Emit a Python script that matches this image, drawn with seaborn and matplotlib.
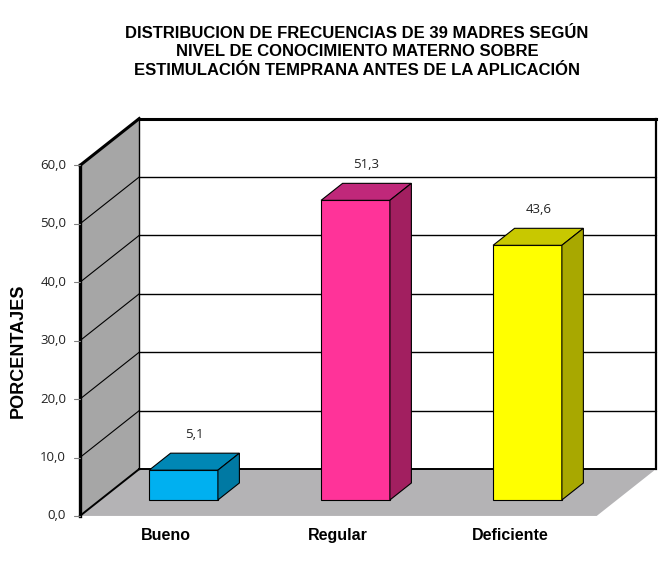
import matplotlib
matplotlib.use('Agg')
import matplotlib.pyplot as plt
from matplotlib.patches import Polygon
import seaborn as sns
import pandas as pd

# datos del grafico
categorias = ['Bueno', 'Regular', 'Deficiente']
porcentajes = [5.1, 51.3, 43.6]
etiquetas = ['5,1', '51,3', '43,6']
ticks_y = [0, 10, 20, 30, 40, 50, 60]
ticks_txt = ['0,0', '10,0', '20,0', '30,0', '40,0', '50,0', '60,0']
colores_frente = ['#00b0f0', '#ff3399', '#ffff00']
colores_lado = ['#0079a3', '#a21f60', '#a8a800']
colores_arriba = ['#0087b5', '#c0287a', '#c8c800']

titulo = ('DISTRIBUCION DE FRECUENCIAS DE 39 MADRES SEGÚN\n'
          'NIVEL DE CONOCIMIENTO MATERNO SOBRE\n'
          'ESTIMULACIÓN TEMPRANA ANTES DE LA APLICACIÓN')

# proyeccion oblicua: z = profundidad (0 = frente de las barras)
DX = 0.125   # desplazamiento en x por unidad de profundidad
DY = 2.91    # desplazamiento en y por unidad de profundidad
ZF = -0.94   # frente del piso / pared lateral
ZB = 1.82    # pared de fondo
XL, XR = -0.485, 2.52
YMAX = 60


def P(x, y, z):
    return (x + z * DX, y + z * DY)


sns.set_theme(style='white')
plt.rcParams['font.family'] = ['Liberation Sans', 'DejaVu Sans']

fig = plt.figure(figsize=(6.63, 5.61), dpi=100)
ax = fig.add_axes([0, 0, 1, 1])

df = pd.DataFrame({'cat': categorias, 'val': porcentajes})
sns.barplot(data=df, x='cat', y='val', hue='cat', palette=colores_frente,
            width=0.40, edgecolor='black', linewidth=0.8, legend=False,
            saturation=1, ax=ax, zorder=3)

# pared de fondo
ax.add_patch(Polygon([P(XL, 0, ZB), P(XR, 0, ZB), P(XR, YMAX, ZB), P(XL, YMAX, ZB)],
                     closed=True, facecolor='white', edgecolor='none', zorder=0))
# pared lateral
ax.add_patch(Polygon([P(XL, 0, ZF), P(XL, 0, ZB), P(XL, YMAX, ZB), P(XL, YMAX, ZF)],
                     closed=True, facecolor='#a6a6a6', edgecolor='none', zorder=0))
# piso
ax.add_patch(Polygon([P(XL, 0, ZF), P(XR, 0, ZF), P(XR, 0, ZB), P(XL, 0, ZB)],
                     closed=True, facecolor='#b4b3b5', edgecolor='none', zorder=0))

# lineas de division
for v in ticks_y[1:-1]:
    a, b = P(XL, v, ZB), P(XR, v, ZB)
    ax.plot([a[0], b[0]], [a[1], b[1]], color='black', lw=1.0, zorder=1)
    a, b = P(XL, v, ZF), P(XL, v, ZB)
    ax.plot([a[0], b[0]], [a[1], b[1]], color='black', lw=0.8, zorder=1)

# bordes
def linea(p1, p2, lw):
    ax.plot([p1[0], p2[0]], [p1[1], p2[1]], color='black', lw=lw, zorder=1,
            solid_capstyle='projecting')

linea(P(XL, YMAX, ZF), P(XL, YMAX, ZB), 2.2)
linea(P(XL, YMAX, ZB), P(XR, YMAX, ZB), 2.2)
linea(P(XR, 0, ZB), P(XR, YMAX, ZB), 1.6)
linea(P(XL, 0, ZB), P(XL, YMAX, ZB), 1.0)
linea(P(XL, 0, ZB), P(XR, 0, ZB), 1.4)
linea(P(XL, 0, ZF), P(XL, 0, ZB), 1.4)
linea(P(XL, 0, ZF), P(XL, YMAX, ZF), 2.4)

# marcas y textos del eje
for v, t in zip(ticks_y, ticks_txt):
    x0, y0 = P(XL, v, ZF)
    ax.plot([x0 - 0.035, x0], [y0, y0], color='#808080', lw=0.8, zorder=1)
    ax.text(x0 - 0.08, y0, t, ha='right', va='center', fontsize=9.5,
            family='Open Sans', color='#222222')

# caras superior y lateral de las barras
for i, barra in enumerate(ax.patches[:len(categorias)]):
    x0 = barra.get_x()
    x1 = x0 + barra.get_width()
    h = barra.get_height()
    arriba = [P(x0, h, 0), P(x1, h, 0), P(x1, h, 1), P(x0, h, 1)]
    lado = [P(x1, 0, 0), P(x1, 0, 1), P(x1, h, 1), P(x1, h, 0)]
    ax.add_patch(Polygon(arriba, closed=True, facecolor=colores_arriba[i],
                         edgecolor='black', lw=0.8, zorder=3))
    ax.add_patch(Polygon(lado, closed=True, facecolor=colores_lado[i],
                         edgecolor='black', lw=0.8, zorder=3))
    cx = x0 + barra.get_width() / 2 + DX * 0.5
    ax.text(cx, h + DY + 3.2, etiquetas[i], ha='center', va='center',
            fontsize=9.5, family='Open Sans', color='#222222')
    ax.text(i - 0.1, -6.0, categorias[i], ha='center', va='center',
            fontsize=11.5, fontweight='bold', color='black')

ax.set_xlim(-1.067, 2.788)
ax.set_ylim(-10.45, 85.6)
ax.axis('off')

fig.text(18 / 663, 1 - 351 / 561, 'PORCENTAJES', rotation=90, ha='center',
         va='center', fontsize=13, fontweight='bold', color='black')
fig.text(357 / 663, 1 - 52 / 561, titulo, ha='center', va='center',
         fontsize=12, fontweight='bold', linespacing=1.32, color='black')

fig.savefig('out.png', dpi=100)
